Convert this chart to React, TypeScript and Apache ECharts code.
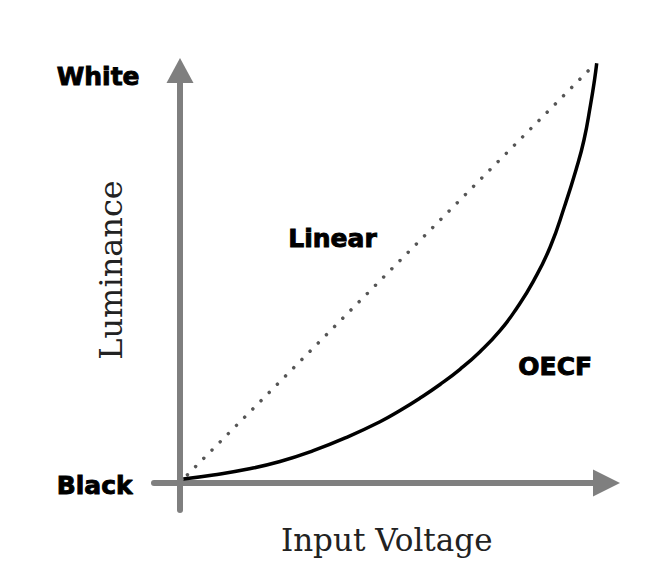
import React, { useEffect, useRef } from "react";
import * as echarts from "echarts";

// OECF curve (input voltage %, luminance %)
const oecfX = [0, 7.23, 15.29, 23.32, 31.35, 39.4, 47.43, 52.26, 57.08, 61.9, 66.72, 71.55, 76.37, 80.4, 84.4, 88.47, 92.04, 94.69, 96.62, 98.19, 99.16, 99.69];
const oecfY = [0, 0.96, 2.33, 4.2, 6.8, 10.02, 13.77, 16.47, 19.45, 22.72, 26.37, 30.6, 35.65, 41.06, 47.52, 55.77, 65.87, 74.28, 81.49, 89.9, 95.91, 99.93];
// Linear reference
const linearX = [1, 99.5];
const linearY = [1, 100];

const labels = {
  white: "White",
  black: "Black",
  linear: "Linear",
  oecf: "OECF",
  xName: "Input Voltage",
  yName: "Luminance",
};

export default function App() {
  const ref = useRef<HTMLDivElement>(null);
  useEffect(() => {
    if (!ref.current) return;
    const chart = echarts.init(ref.current, null, { renderer: "svg" });
    const axisGray = "#7f7f7f";
    const boldFont = 'bold 25px "DejaVu Sans"';
    const serifFont = '31px "DejaVu Serif"';
    const boldStyle = { font: boldFont, fill: "#000", stroke: "#000", lineWidth: 0.9, align: "left", verticalAlign: "middle" };
    chart.setOption({
      animation: false,
      backgroundColor: "#ffffff",
      grid: [
        { left: 183.3, top: 63, width: 414.7, height: 416 },
        { left: 154, top: 70.5, width: 452.5, height: 439.5 },
      ],
      xAxis: [
        { type: "value", gridIndex: 0, min: 0, max: 100, show: false },
        {
          type: "value",
          gridIndex: 1,
          min: -26,
          max: 426.5,
          axisLine: {
            show: true,
            onZero: true,
            symbol: ["none", "triangle"],
            symbolSize: [27, 27],
            lineStyle: { color: axisGray, width: 6 },
          },
          axisTick: { show: false },
          axisLabel: { show: false },
          splitLine: { show: false },
        },
      ],
      yAxis: [
        { type: "value", gridIndex: 0, min: 0, max: 100, show: false },
        {
          type: "value",
          gridIndex: 1,
          min: -27,
          max: 412.5,
          axisLine: {
            show: true,
            onZero: true,
            symbol: ["none", "triangle"],
            symbolSize: [27, 25],
            lineStyle: { color: axisGray, width: 6 },
          },
          axisTick: { show: false },
          axisLabel: { show: false },
          splitLine: { show: false },
        },
      ],
      series: [
        {
          type: "line",
          name: "Linear",
          xAxisIndex: 0,
          yAxisIndex: 0,
          data: linearX.map((x, i) => [x, linearY[i]]),
          showSymbol: false,
          clip: false,
          lineStyle: { color: "#555555", width: 3.5, type: [0.01, 11.6], cap: "round" },
          z: 3,
        },
        {
          type: "line",
          name: "OECF",
          xAxisIndex: 0,
          yAxisIndex: 0,
          data: oecfX.map((x, i) => [x, oecfY[i]]),
          showSymbol: false,
          smooth: 0.5,
          clip: false,
          lineStyle: { color: "#000000", width: 3.5 },
          z: 4,
        },
      ],
      graphic: [
        { type: "text", x: 56.7, y: 76, style: { ...boldStyle, text: labels.white } },
        { type: "text", x: 56.7, y: 485.5, style: { ...boldStyle, text: labels.black } },
        { type: "text", x: 288.3, y: 238.8, style: { ...boldStyle, text: labels.linear } },
        { type: "text", x: 518.3, y: 366.5, style: { ...boldStyle, text: labels.oecf } },
        { type: "text", x: 386.7, y: 540, style: { text: labels.xName, font: serifFont, fill: "#222", align: "center", verticalAlign: "middle" } },
        { type: "text", x: 111, y: 270, rotation: Math.PI / 2, style: { text: labels.yName, font: '32px "DejaVu Serif"', fill: "#222", align: "center", verticalAlign: "middle" } },
      ],
    });
    return () => chart.dispose();
  }, []);
  return (
    <div
      ref={ref}
      style={{ position: "fixed", left: 0, top: 0, width: 647, height: 587, background: "#fff" }}
    />
  );
}
